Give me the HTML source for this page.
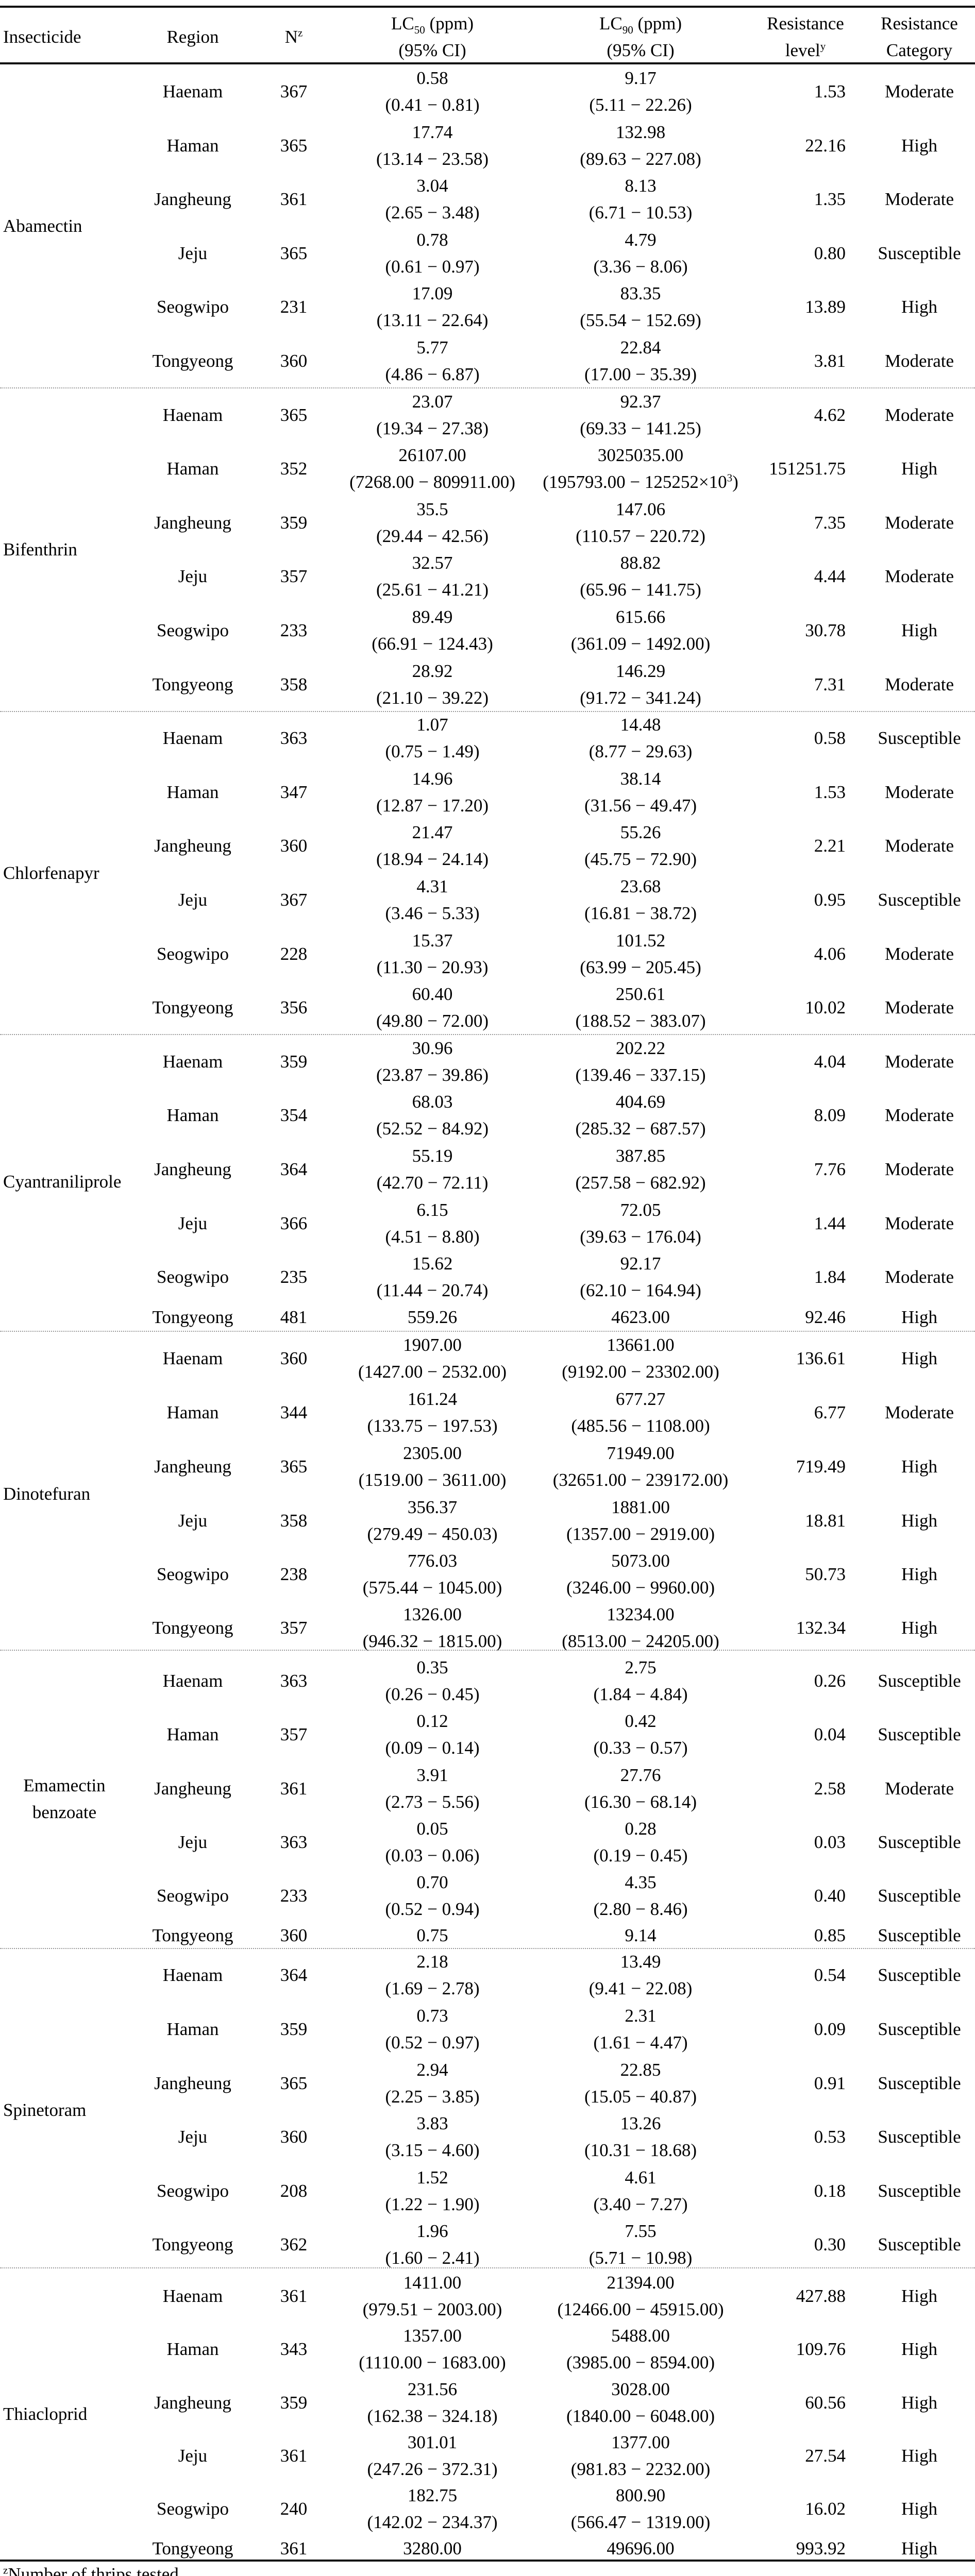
<!DOCTYPE html>
<html><head><meta charset="utf-8"><style>
html,body{margin:0;padding:0;background:#fff;width:1892px;height:5088px;overflow:hidden;}
body{position:relative;font-family:"Liberation Serif","Times New Roman",serif;font-size:35px;color:#000;}
.r{position:absolute;left:0;width:1892px;height:0;}
.r>div{position:absolute;top:0;transform:translateY(-50%);line-height:52px;white-space:nowrap;text-align:center;}
.b{left:250px;width:248px}.c{left:498px;width:144px}.d{left:642px;width:394px}.e{left:1036px;width:414px}
.r>.f{left:1400px;width:241px;text-align:right}.g{left:1676px;width:216px}
.r>.a{left:6px;text-align:left}
.hl{position:absolute;left:0;width:1892px;height:4px;background:#111;}
.dl{position:absolute;left:0;width:1892px;height:0;border-top:2px dotted #999;}
sub,sup{font-size:60%;line-height:0;}
.fn{position:absolute;left:6px;line-height:40px;}
</style></head><body>
<div class="hl" style="top:11px"></div>
<div class="hl" style="top:121px"></div>
<div class="r" style="top:72px"><div class="a">Insecticide</div><div class="b">Region</div><div class="c">N<sup>z</sup></div><div class="d">LC<sub>50</sub> (ppm)<br>(95% CI)</div><div class="e">LC<sub>90</sub> (ppm)<br>(95% CI)</div><div class="f" style="text-align:center;left:1450px;width:226px">Resistance<br>level<sup>y</sup></div><div class="g">Resistance<br>Category</div></div>

<div class="r" style="top:439px"><div class="a">Abamectin</div></div>
<div class="r" style="top:178px"><div class="b">Haenam</div><div class="c">367</div><div class="d">0.58<br>(0.41 − 0.81)</div><div class="e">9.17<br>(5.11 − 22.26)</div><div class="f">1.53</div><div class="g">Moderate</div></div>
<div class="r" style="top:283px"><div class="b">Haman</div><div class="c">365</div><div class="d">17.74<br>(13.14 − 23.58)</div><div class="e">132.98<br>(89.63 − 227.08)</div><div class="f">22.16</div><div class="g">High</div></div>
<div class="r" style="top:387px"><div class="b">Jangheung</div><div class="c">361</div><div class="d">3.04<br>(2.65 − 3.48)</div><div class="e">8.13<br>(6.71 − 10.53)</div><div class="f">1.35</div><div class="g">Moderate</div></div>
<div class="r" style="top:492px"><div class="b">Jeju</div><div class="c">365</div><div class="d">0.78<br>(0.61 − 0.97)</div><div class="e">4.79<br>(3.36 − 8.06)</div><div class="f">0.80</div><div class="g">Susceptible</div></div>
<div class="r" style="top:596px"><div class="b">Seogwipo</div><div class="c">231</div><div class="d">17.09<br>(13.11 − 22.64)</div><div class="e">83.35<br>(55.54 − 152.69)</div><div class="f">13.89</div><div class="g">High</div></div>
<div class="r" style="top:701px"><div class="b">Tongyeong</div><div class="c">360</div><div class="d">5.77<br>(4.86 − 6.87)</div><div class="e">22.84<br>(17.00 − 35.39)</div><div class="f">3.81</div><div class="g">Moderate</div></div>
<div class="dl" style="top:752px"></div>

<div class="r" style="top:1067px"><div class="a">Bifenthrin</div></div>
<div class="r" style="top:806px"><div class="b">Haenam</div><div class="c">365</div><div class="d">23.07<br>(19.34 − 27.38)</div><div class="e">92.37<br>(69.33 − 141.25)</div><div class="f">4.62</div><div class="g">Moderate</div></div>
<div class="r" style="top:910px"><div class="b">Haman</div><div class="c">352</div><div class="d">26107.00<br>(7268.00 − 809911.00)</div><div class="e">3025035.00<br>(195793.00 − 125252×10<sup>3</sup>)</div><div class="f">151251.75</div><div class="g">High</div></div>
<div class="r" style="top:1015px"><div class="b">Jangheung</div><div class="c">359</div><div class="d">35.5<br>(29.44 − 42.56)</div><div class="e">147.06<br>(110.57 − 220.72)</div><div class="f">7.35</div><div class="g">Moderate</div></div>
<div class="r" style="top:1119px"><div class="b">Jeju</div><div class="c">357</div><div class="d">32.57<br>(25.61 − 41.21)</div><div class="e">88.82<br>(65.96 − 141.75)</div><div class="f">4.44</div><div class="g">Moderate</div></div>
<div class="r" style="top:1224px"><div class="b">Seogwipo</div><div class="c">233</div><div class="d">89.49<br>(66.91 − 124.43)</div><div class="e">615.66<br>(361.09 − 1492.00)</div><div class="f">30.78</div><div class="g">High</div></div>
<div class="r" style="top:1329px"><div class="b">Tongyeong</div><div class="c">358</div><div class="d">28.92<br>(21.10 − 39.22)</div><div class="e">146.29<br>(91.72 − 341.24)</div><div class="f">7.31</div><div class="g">Moderate</div></div>
<div class="dl" style="top:1380px"></div>

<div class="r" style="top:1695px"><div class="a">Chlorfenapyr</div></div>
<div class="r" style="top:1433px"><div class="b">Haenam</div><div class="c">363</div><div class="d">1.07<br>(0.75 − 1.49)</div><div class="e">14.48<br>(8.77 − 29.63)</div><div class="f">0.58</div><div class="g">Susceptible</div></div>
<div class="r" style="top:1538px"><div class="b">Haman</div><div class="c">347</div><div class="d">14.96<br>(12.87 − 17.20)</div><div class="e">38.14<br>(31.56 − 49.47)</div><div class="f">1.53</div><div class="g">Moderate</div></div>
<div class="r" style="top:1642px"><div class="b">Jangheung</div><div class="c">360</div><div class="d">21.47<br>(18.94 − 24.14)</div><div class="e">55.26<br>(45.75 − 72.90)</div><div class="f">2.21</div><div class="g">Moderate</div></div>
<div class="r" style="top:1747px"><div class="b">Jeju</div><div class="c">367</div><div class="d">4.31<br>(3.46 − 5.33)</div><div class="e">23.68<br>(16.81 − 38.72)</div><div class="f">0.95</div><div class="g">Susceptible</div></div>
<div class="r" style="top:1852px"><div class="b">Seogwipo</div><div class="c">228</div><div class="d">15.37<br>(11.30 − 20.93)</div><div class="e">101.52<br>(63.99 − 205.45)</div><div class="f">4.06</div><div class="g">Moderate</div></div>
<div class="r" style="top:1956px"><div class="b">Tongyeong</div><div class="c">356</div><div class="d">60.40<br>(49.80 − 72.00)</div><div class="e">250.61<br>(188.52 − 383.07)</div><div class="f">10.02</div><div class="g">Moderate</div></div>
<div class="dl" style="top:2007px"></div>

<div class="r" style="top:2294px"><div class="a">Cyantraniliprole</div></div>
<div class="r" style="top:2061px"><div class="b">Haenam</div><div class="c">359</div><div class="d">30.96<br>(23.87 − 39.86)</div><div class="e">202.22<br>(139.46 − 337.15)</div><div class="f">4.04</div><div class="g">Moderate</div></div>
<div class="r" style="top:2165px"><div class="b">Haman</div><div class="c">354</div><div class="d">68.03<br>(52.52 − 84.92)</div><div class="e">404.69<br>(285.32 − 687.57)</div><div class="f">8.09</div><div class="g">Moderate</div></div>
<div class="r" style="top:2270px"><div class="b">Jangheung</div><div class="c">364</div><div class="d">55.19<br>(42.70 − 72.11)</div><div class="e">387.85<br>(257.58 − 682.92)</div><div class="f">7.76</div><div class="g">Moderate</div></div>
<div class="r" style="top:2375px"><div class="b">Jeju</div><div class="c">366</div><div class="d">6.15<br>(4.51 − 8.80)</div><div class="e">72.05<br>(39.63 − 176.04)</div><div class="f">1.44</div><div class="g">Moderate</div></div>
<div class="r" style="top:2479px"><div class="b">Seogwipo</div><div class="c">235</div><div class="d">15.62<br>(11.44 − 20.74)</div><div class="e">92.17<br>(62.10 − 164.94)</div><div class="f">1.84</div><div class="g">Moderate</div></div>
<div class="r" style="top:2557px"><div class="b">Tongyeong</div><div class="c">481</div><div class="d">559.26</div><div class="e">4623.00</div><div class="f">92.46</div><div class="g">High</div></div>
<div class="dl" style="top:2583px"></div>

<div class="r" style="top:2900px"><div class="a">Dinotefuran</div></div>
<div class="r" style="top:2637px"><div class="b">Haenam</div><div class="c">360</div><div class="d">1907.00<br>(1427.00 − 2532.00)</div><div class="e">13661.00<br>(9192.00 − 23302.00)</div><div class="f">136.61</div><div class="g">High</div></div>
<div class="r" style="top:2742px"><div class="b">Haman</div><div class="c">344</div><div class="d">161.24<br>(133.75 − 197.53)</div><div class="e">677.27<br>(485.56 − 1108.00)</div><div class="f">6.77</div><div class="g">Moderate</div></div>
<div class="r" style="top:2847px"><div class="b">Jangheung</div><div class="c">365</div><div class="d">2305.00<br>(1519.00 − 3611.00)</div><div class="e">71949.00<br>(32651.00 − 239172.00)</div><div class="f">719.49</div><div class="g">High</div></div>
<div class="r" style="top:2952px"><div class="b">Jeju</div><div class="c">358</div><div class="d">356.37<br>(279.49 − 450.03)</div><div class="e">1881.00<br>(1357.00 − 2919.00)</div><div class="f">18.81</div><div class="g">High</div></div>
<div class="r" style="top:3056px"><div class="b">Seogwipo</div><div class="c">238</div><div class="d">776.03<br>(575.44 − 1045.00)</div><div class="e">5073.00<br>(3246.00 − 9960.00)</div><div class="f">50.73</div><div class="g">High</div></div>
<div class="r" style="top:3160px"><div class="b">Tongyeong</div><div class="c">357</div><div class="d">1326.00<br>(946.32 − 1815.00)</div><div class="e">13234.00<br>(8513.00 − 24205.00)</div><div class="f">132.34</div><div class="g">High</div></div>
<div class="dl" style="top:3202px"></div>

<div class="r" style="top:3492px"><div class="a" style="left:0;width:250px;text-align:center">Emamectin<br>benzoate</div></div>
<div class="r" style="top:3263px"><div class="b">Haenam</div><div class="c">363</div><div class="d">0.35<br>(0.26 − 0.45)</div><div class="e">2.75<br>(1.84 − 4.84)</div><div class="f">0.26</div><div class="g">Susceptible</div></div>
<div class="r" style="top:3367px"><div class="b">Haman</div><div class="c">357</div><div class="d">0.12<br>(0.09 − 0.14)</div><div class="e">0.42<br>(0.33 − 0.57)</div><div class="f">0.04</div><div class="g">Susceptible</div></div>
<div class="r" style="top:3472px"><div class="b">Jangheung</div><div class="c">361</div><div class="d">3.91<br>(2.73 − 5.56)</div><div class="e">27.76<br>(16.30 − 68.14)</div><div class="f">2.58</div><div class="g">Moderate</div></div>
<div class="r" style="top:3576px"><div class="b">Jeju</div><div class="c">363</div><div class="d">0.05<br>(0.03 − 0.06)</div><div class="e">0.28<br>(0.19 − 0.45)</div><div class="f">0.03</div><div class="g">Susceptible</div></div>
<div class="r" style="top:3680px"><div class="b">Seogwipo</div><div class="c">233</div><div class="d">0.70<br>(0.52 − 0.94)</div><div class="e">4.35<br>(2.80 − 8.46)</div><div class="f">0.40</div><div class="g">Susceptible</div></div>
<div class="r" style="top:3757px"><div class="b">Tongyeong</div><div class="c">360</div><div class="d">0.75</div><div class="e">9.14</div><div class="f">0.85</div><div class="g">Susceptible</div></div>
<div class="dl" style="top:3781px"></div>

<div class="r" style="top:4096px"><div class="a">Spinetoram</div></div>
<div class="r" style="top:3834px"><div class="b">Haenam</div><div class="c">364</div><div class="d">2.18<br>(1.69 − 2.78)</div><div class="e">13.49<br>(9.41 − 22.08)</div><div class="f">0.54</div><div class="g">Susceptible</div></div>
<div class="r" style="top:3939px"><div class="b">Haman</div><div class="c">359</div><div class="d">0.73<br>(0.52 − 0.97)</div><div class="e">2.31<br>(1.61 − 4.47)</div><div class="f">0.09</div><div class="g">Susceptible</div></div>
<div class="r" style="top:4044px"><div class="b">Jangheung</div><div class="c">365</div><div class="d">2.94<br>(2.25 − 3.85)</div><div class="e">22.85<br>(15.05 − 40.87)</div><div class="f">0.91</div><div class="g">Susceptible</div></div>
<div class="r" style="top:4148px"><div class="b">Jeju</div><div class="c">360</div><div class="d">3.83<br>(3.15 − 4.60)</div><div class="e">13.26<br>(10.31 − 18.68)</div><div class="f">0.53</div><div class="g">Susceptible</div></div>
<div class="r" style="top:4253px"><div class="b">Seogwipo</div><div class="c">208</div><div class="d">1.52<br>(1.22 − 1.90)</div><div class="e">4.61<br>(3.40 − 7.27)</div><div class="f">0.18</div><div class="g">Susceptible</div></div>
<div class="r" style="top:4357px"><div class="b">Tongyeong</div><div class="c">362</div><div class="d">1.96<br>(1.60 − 2.41)</div><div class="e">7.55<br>(5.71 − 10.98)</div><div class="f">0.30</div><div class="g">Susceptible</div></div>
<div class="dl" style="top:4401px"></div>

<div class="r" style="top:4686px"><div class="a">Thiacloprid</div></div>
<div class="r" style="top:4457px"><div class="b">Haenam</div><div class="c">361</div><div class="d">1411.00<br>(979.51 − 2003.00)</div><div class="e">21394.00<br>(12466.00 − 45915.00)</div><div class="f">427.88</div><div class="g">High</div></div>
<div class="r" style="top:4560px"><div class="b">Haman</div><div class="c">343</div><div class="d">1357.00<br>(1110.00 − 1683.00)</div><div class="e">5488.00<br>(3985.00 − 8594.00)</div><div class="f">109.76</div><div class="g">High</div></div>
<div class="r" style="top:4664px"><div class="b">Jangheung</div><div class="c">359</div><div class="d">231.56<br>(162.38 − 324.18)</div><div class="e">3028.00<br>(1840.00 − 6048.00)</div><div class="f">60.56</div><div class="g">High</div></div>
<div class="r" style="top:4767px"><div class="b">Jeju</div><div class="c">361</div><div class="d">301.01<br>(247.26 − 372.31)</div><div class="e">1377.00<br>(981.83 − 2232.00)</div><div class="f">27.54</div><div class="g">High</div></div>
<div class="r" style="top:4870px"><div class="b">Seogwipo</div><div class="c">240</div><div class="d">182.75<br>(142.02 − 234.37)</div><div class="e">800.90<br>(566.47 − 1319.00)</div><div class="f">16.02</div><div class="g">High</div></div>
<div class="r" style="top:4947px"><div class="b">Tongyeong</div><div class="c">361</div><div class="d">3280.00</div><div class="e">49696.00</div><div class="f">993.92</div><div class="g">High</div></div>
<div class="hl" style="top:4968px"></div>

<div class="fn" style="top:4977px"><sup>z</sup>Number of thrips tested.</div>
<div class="fn" style="top:5030px"><sup>y</sup>Resistance level = LC<sub>90</sub>/Recommended concentration.</div>
</body></html>
